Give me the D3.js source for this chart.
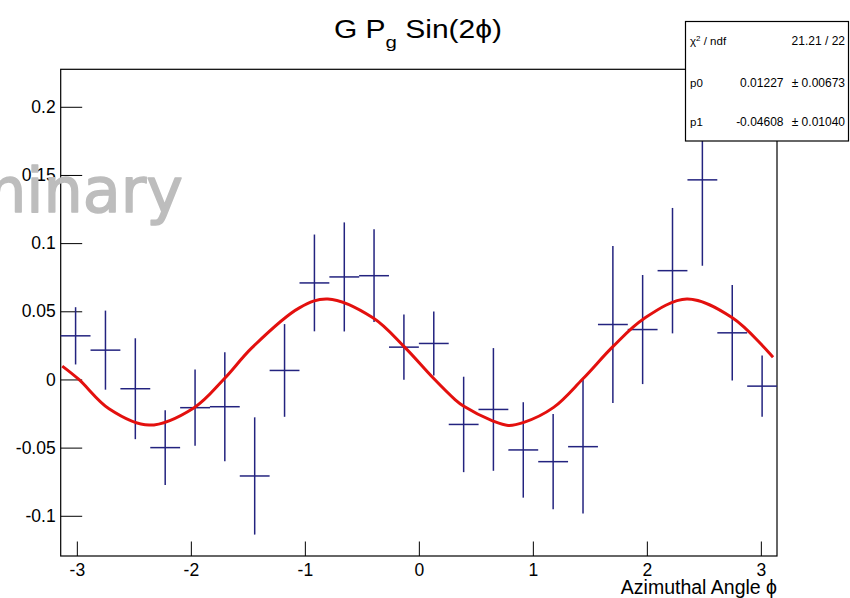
<!DOCTYPE html>
<html>
<head>
<meta charset="utf-8">
<script src="https://cdn.jsdelivr.net/npm/d3@7"></script>
<style>
body { margin: 0; background: #fff; }
svg { display: block; font-family: "Liberation Sans", Arial, sans-serif; }
</style>
</head>
<body>
<div id="chart"></div>
<script>
// bin centres, 24 bins between -pi and pi
var phiCenters = [-3.011, -2.749, -2.487, -2.225, -1.963, -1.702, -1.440, -1.178,
                  -0.916, -0.654, -0.393, -0.131, 0.131, 0.393, 0.654, 0.916,
                  1.178, 1.440, 1.702, 1.963, 2.225, 2.487, 2.749, 3.011];
var binHalf = Math.PI / 24;

// asymmetry per bin and its error
var asym = [0.032, 0.0215, -0.0068, -0.050, -0.0207, -0.020, -0.0708, 0.0066,
            0.0708, 0.0752, 0.0761, 0.0237, 0.0264, -0.033, -0.022, -0.0517,
            -0.0603, -0.0493, 0.0403, 0.0366, 0.0798, 0.1464, 0.0342, -0.0049];
var asymErr = [0.021, 0.029, 0.037, 0.0275, 0.028, 0.040, 0.043, 0.034,
               0.0355, 0.040, 0.034, 0.024, 0.0235, 0.035, 0.045, 0.035,
               0.035, 0.049, 0.0576, 0.040, 0.046, 0.063, 0.035, 0.0225];

// fit curve
var fitPhi = [-3.128, -2.982, -2.718, -2.366, -1.971, -1.707, -1.461, -1.048, -0.799,
              -0.403, -0.125, 0.124, 0.315, 0.391, 0.651, 0.783, 0.921, 1.182,
              1.437, 1.706, 1.970, 2.351, 2.750, 3.107];
var fitVal = [0.0098, 0.0, -0.0215, -0.0335, -0.0207, 0.0005, 0.0235, 0.0525, 0.0590,
              0.0452, 0.0237, 0.0012, -0.0146, -0.0195, -0.0305, -0.0337, -0.0315, -0.0205,
              0.0003, 0.0244, 0.0444, 0.0590, 0.0452, 0.0163];

// axis ticks
var xTicks = [-3, -2, -1, 0, 1, 2, 3];
var xMinor = d3.range(-30, 31, 2).map(function(d) { return d / 10; });
var yTicks = [-0.1, -0.05, 0, 0.05, 0.1, 0.15, 0.2];
var yMinor = d3.range(-12, 23, 1).map(function(d) { return d / 100; });

// stats box rows: name, value, error
var statNames = ["χ", "p0", "p1"];
var statValues = ["21.21 / 22", "0.01227", "-0.04608"];
var statErrors = ["", "± 0.00673", "± 0.01040"];

var W = 850, H = 598;
var frame = { left: 60.7, right: 777, top: 69.3, bottom: 556 };

var svg = d3.select("#chart").append("svg")
    .attr("width", W)
    .attr("height", H);

var x = d3.scaleLinear().domain([-Math.PI, Math.PI]).range([frame.left, frame.right]);
var y = d3.scaleLinear().domain([-0.1295, 0.2275]).range([frame.bottom, frame.top]);

function fmt(d) {
    return String(+d.toFixed(2));
}

//axes with inward ticks like ROOT
function drawAxes() {
    var gx = svg.append("g").attr("transform", "translate(0," + frame.bottom + ")");
    gx.call(d3.axisBottom(x).tickValues(xMinor).tickSize(-7).tickFormat(""));
    gx.call(d3.axisBottom(x).tickValues(xTicks).tickSize(-14.5).tickPadding(8).tickFormat(fmt));

    var gy = svg.append("g").attr("transform", "translate(" + frame.left + ",0)");
    gy.call(d3.axisLeft(y).tickValues(yMinor).tickSize(-10.7).tickFormat(""));
    gy.call(d3.axisLeft(y).tickValues(yTicks).tickSize(-21.5).tickPadding(5).tickFormat(fmt));

    svg.selectAll(".domain").remove();
    svg.selectAll(".tick line").attr("stroke", "#000").attr("stroke-width", 1);
    svg.selectAll(".tick text")
        .attr("fill", "#000")
        .style("font-size", "17.5px")
        .style("font-family", "Liberation Sans, Arial, sans-serif");
    gx.selectAll(".tick text").attr("dy", "0.71em");

    //frame
    svg.append("rect")
        .attr("x", frame.left)
        .attr("y", frame.top)
        .attr("width", frame.right - frame.left)
        .attr("height", frame.bottom - frame.top)
        .attr("fill", "none")
        .attr("stroke", "#000")
        .attr("stroke-width", 1.2);
}

//data points with error crosses
function drawPoints() {
    var g = svg.append("g")
        .attr("stroke", "#23237f")
        .attr("stroke-width", 1.5);
    var pts = g.selectAll("g").data(asym).enter().append("g");
    pts.append("line")
        .attr("x1", function(d, i) { return x(phiCenters[i] - binHalf); })
        .attr("x2", function(d, i) { return x(phiCenters[i] + binHalf); })
        .attr("y1", function(d) { return y(d); })
        .attr("y2", function(d) { return y(d); });
    pts.append("line")
        .attr("x1", function(d, i) { return x(phiCenters[i]); })
        .attr("x2", function(d, i) { return x(phiCenters[i]); })
        .attr("y1", function(d, i) { return y(d + asymErr[i]); })
        .attr("y2", function(d, i) { return y(d - asymErr[i]); });
}

//red fit curve
function drawFit() {
    var line = d3.line()
        .x(function(d, i) { return x(fitPhi[i]); })
        .y(function(d) { return y(d); })
        .curve(d3.curveCatmullRom);
    svg.append("path")
        .datum(fitVal)
        .attr("d", line)
        .attr("fill", "none")
        .attr("stroke", "#e3100e")
        .attr("stroke-width", 3);
}

//stats box top right
function drawStats() {
    var g = svg.append("g");
    g.append("rect")
        .attr("x", 685.5)
        .attr("y", 21.5)
        .attr("width", 163)
        .attr("height", 119.5)
        .attr("fill", "#fff")
        .attr("stroke", "#000")
        .attr("stroke-width", 1.2);
    var rowY = [45, 87, 126];
    statNames.forEach(function(n, i) {
        var t = g.append("text")
            .attr("x", 690)
            .attr("y", rowY[i])
            .style("font-size", "11.5px")
            .text(n);
        if (i == 0) {
            t.append("tspan").attr("dy", -4.5).style("font-size", "8px").text("2");
            t.append("tspan").attr("dy", 4.5).text(" / ndf");
        }
        g.append("text")
            .attr("x", i == 0 ? 845 : 783.5)
            .attr("y", rowY[i])
            .attr("text-anchor", "end")
            .style("font-size", "12px")
            .text(statValues[i]);
        g.append("text")
            .attr("x", 845)
            .attr("y", rowY[i])
            .attr("text-anchor", "end")
            .style("font-size", "12px")
            .text(statErrors[i]);
    });
}

//title and axis label
function drawTitles() {
    var t = svg.append("text")
        .attr("transform", "translate(418,38.3) scale(1.2,1)")
        .attr("text-anchor", "middle")
        .style("font-size", "25px")
        .text("G P");
    t.append("tspan").attr("dy", 10).style("font-size", "17px").text("g");
    t.append("tspan").attr("dy", -10).text(" Sin(2ϕ)");

    svg.append("text")
        .attr("x", 777)
        .attr("y", 594)
        .attr("text-anchor", "end")
        .style("font-size", "19.5px")
        .text("Azimuthal Angle ϕ");
}

//watermark, cut off at the left edge
function drawWatermark() {
    svg.append("text")
        .attr("x", 183)
        .attr("y", 211.7)
        .attr("text-anchor", "end")
        .attr("fill", "#bdbdbd")
        .attr("stroke", "#bdbdbd")
        .attr("stroke-width", 1.5)
        .attr("stroke-linejoin", "round")
        .style("font-family", "'Comic Sans MS', 'DejaVu Sans', sans-serif")
        .style("font-size", "62px")
        .text("Preliminary");
}

drawAxes();
drawPoints();
drawFit();
drawStats();
drawTitles();
drawWatermark();
</script>
</body>
</html>
